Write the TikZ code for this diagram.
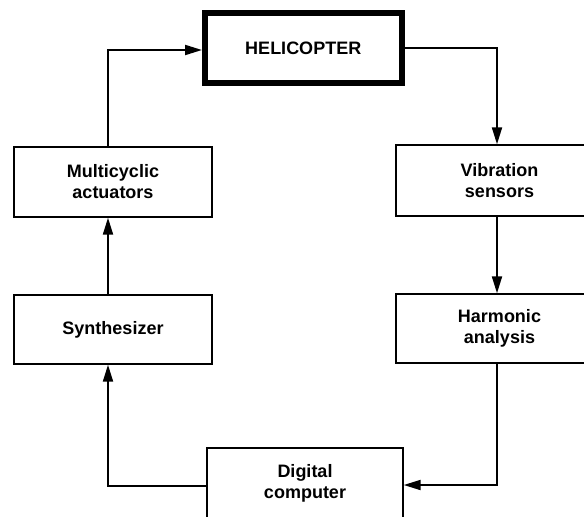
\documentclass[tikz,border=0pt]{standalone}
\usepackage{fontspec}
\setmainfont{Liberation Sans}
\usetikzlibrary{arrows.meta}
\tikzset{
  blk/.style={draw, line width=1.4pt, rectangle, inner sep=0pt, align=center,
    font=\bfseries\fontsize{18}{21}\selectfont},
  heliblk/.style={blk, line width=6pt},
  arr/.style={line width=2pt, -{Triangle[length=17pt,width=10pt]}}
}
\begin{document}
\begin{tikzpicture}[x=1pt,y=-1pt]
\useasboundingbox (0,0) rectangle (584,517);
\clip (0,0) rectangle (584,517);
\node[heliblk, minimum width=196.5pt, minimum height=70pt] (heli) at (303.25,48) {HELICOPTER};
\node[blk, minimum width=198pt, minimum height=70pt] (mult) at (113,182) {Multicyclic\\actuators};
\node[blk, minimum width=198pt, minimum height=69pt] (synth) at (113,329.5) {Synthesizer};
\node[blk, minimum width=207pt, minimum height=71pt] (vib) at (499.5,180.5) {Vibration\\sensors};
\node[blk, minimum width=207pt, minimum height=69pt] (harm) at (499.5,328.5) {Harmonic\\analysis};
\node[blk, minimum width=196pt, minimum height=70pt] (dig) at (305,483) {Digital\\computer};
\draw[arr] ([xshift=-5pt]mult.north) |- ([yshift=-2pt]heli.west);
\draw[arr] (heli.east) -| ([xshift=-2.5pt]vib.north);
\draw[arr] ([xshift=-2.5pt]vib.south) -- ([xshift=-2.5pt]harm.north);
\draw[arr] ([xshift=-2.5pt]harm.south) |- ([yshift=-2pt]dig.east);
\draw[arr] ([yshift=-3pt]dig.west) -| ([xshift=-5pt]synth.south);
\draw[arr] ([xshift=-5pt]synth.north) -- ([xshift=-5pt]mult.south);
\end{tikzpicture}
\end{document}
